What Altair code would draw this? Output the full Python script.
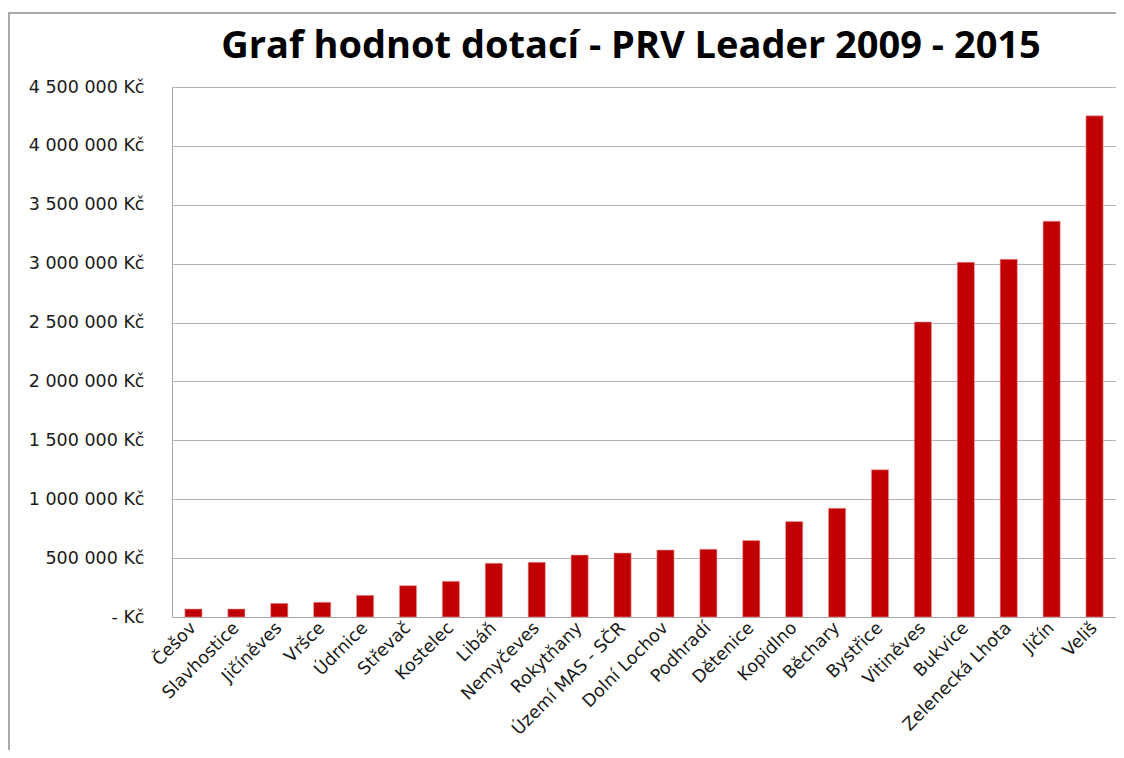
import altair as alt
import pandas as pd

categories = ["Češov", "Slavhostice", "Jičíněves", "Vršce", "Údrnice", "Střevač",
              "Kostelec", "Libáň", "Nemyčeves", "Rokytňany", "Území MAS - SČR",
              "Dolní Lochov", "Podhradí", "Dětenice", "Kopidlno", "Běchary",
              "Bystřice", "Vitiněves", "Bukvice", "Zelenecká Lhota", "Jičín", "Veliš"]
values = [68000, 68000, 116000, 125000, 184000, 266000,
          303000, 456000, 464000, 526000, 543000,
          569000, 575000, 649000, 810000, 923000,
          1250000, 2505000, 3012000, 3037000, 3361000, 4255000]
y_ticks = [0, 500000, 1000000, 1500000, 2000000, 2500000, 3000000, 3500000, 4000000, 4500000]

df = pd.DataFrame({"obec": categories, "hodnota": values})

W, H = 944, 530

bars = alt.Chart(df).mark_bar(color="#C00000", stroke="#E8A0A0", strokeWidth=0.6).encode(
    x=alt.X("obec:N", sort=categories, title=None,
            scale=alt.Scale(paddingInner=0.6, paddingOuter=0.3),
            axis=alt.Axis(labelAngle=-45, labelAlign="right", labelBaseline="middle",
                          labelFont="DejaVu Sans", labelFontSize=17.5, labelColor="#1A1A1A",
                          ticks=False, domainColor="#A6A6A6", labelPadding=8, labelOverlap=False)),
    y=alt.Y("hodnota:Q", title=None,
            scale=alt.Scale(domain=[0, 4500000], nice=False),
            axis=alt.Axis(values=y_ticks, grid=True, gridColor="#B3B3B3", gridWidth=1,
                          domainColor="#A6A6A6", tickColor="#A6A6A6", tickSize=0,
                          labelFont="DejaVu Sans", labelFontSize=17.5, labelColor="#1A1A1A",
                          labelPadding=28,
                          labelExpr="datum.value == 0 ? '- Kč' : replace(format(datum.value, ','), regexp(',', 'g'), ' ') + ' Kč'")),
)

frame = alt.Chart(df).mark_rect(fill=None, stroke="#8C8C8C", strokeWidth=1.5).encode(
    x=alt.value(-163), x2=alt.value(W + 30), y=alt.value(-74), y2=alt.value(H + 200)
).transform_filter("datum.obec == 'Češov'")

chart = alt.layer(frame, bars).properties(
    width=W, height=H,
    autosize=alt.AutoSizeParams(type="none"),
    padding={"left": 164, "top": 79, "right": 0, "bottom": 133},
    title=alt.TitleParams("Graf hodnot dotací - PRV Leader 2009  - 2015",
                          font="Open Sans", fontSize=38, fontWeight="bold", color="#000000",
                          anchor="middle", frame="group", baseline="alphabetic",
                          offset=-84, dx=-13),
).configure_view(stroke=None)

chart.save("out.html", embed_options={"renderer": "svg", "actions": False})
